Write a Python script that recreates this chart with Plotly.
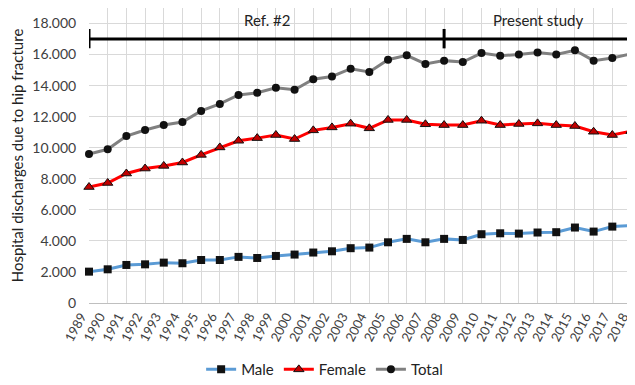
import plotly.graph_objects as go

years = list(range(1989, 2019))
male = [2020, 2170, 2450, 2490, 2600, 2560, 2770, 2770, 2970, 2900,
        3030, 3120, 3250, 3330, 3530, 3570, 3910, 4130, 3910, 4130,
        4060, 4430, 4490, 4470, 4540, 4560, 4860, 4600, 4920, 4990]
female = [7470, 7730, 8340, 8660, 8830, 9050, 9540, 10020, 10450, 10620,
          10820, 10560, 11120, 11310, 11550, 11250, 11790, 11790, 11510, 11460,
          11460, 11740, 11460, 11530, 11570, 11460, 11400, 11030, 10820, 11070]
total = [9590, 9900, 10750, 11140, 11460, 11660, 12370, 12820, 13400, 13540,
         13860, 13730, 14410, 14590, 15090, 14880, 15670, 15950, 15400, 15610,
         15520, 16100, 15930, 16000, 16130, 16000, 16280, 15610, 15780, 16040]

bracket_years = [1989, 2008, 2018]
bracket_level = 17000
bracket_tick_lo = 16400
bracket_tick_hi = 17650
bracket_labels = ["Ref. #2", "Present study"]
ytick_vals = list(range(0, 18001, 2000))

font = "Lato, 'Open Sans', sans-serif"
fig = go.Figure()
fig.add_trace(go.Scatter(x=years, y=male, name="Male", mode="lines+markers",
                         line=dict(color="#5B9BD5", width=3),
                         marker=dict(symbol="square", size=8, color="#111111"),
                         cliponaxis=False))
fig.add_trace(go.Scatter(x=years, y=female, name="Female", mode="lines+markers",
                         line=dict(color="#FF0000", width=3),
                         marker=dict(symbol="triangle-up", size=9, color="#C00000",
                                     line=dict(color="#111111", width=1)),
                         cliponaxis=False))
fig.add_trace(go.Scatter(x=years, y=total, name="Total", mode="lines+markers",
                         line=dict(color="#808080", width=3),
                         marker=dict(symbol="circle", size=8, color="#111111"),
                         cliponaxis=False))

# bracket (drawn as unclipped line traces)
bx = [bracket_years[0], bracket_years[-1], None]
by = [bracket_level, bracket_level, None]
for yr in bracket_years:
    bx += [yr, yr, None]
    by += [bracket_tick_lo, bracket_tick_hi, None]
fig.add_trace(go.Scatter(x=bx, y=by, mode="lines", line=dict(color="black", width=3),
                         showlegend=False, hoverinfo="skip", cliponaxis=False))
for i, lab in enumerate(bracket_labels):
    fig.add_annotation(x=(bracket_years[i] + bracket_years[i + 1]) / 2, y=18250,
                       text=lab, showarrow=False, font=dict(size=15, color="#222222"))

# page body has an 8px margin: figure is sized/placed to compensate
fig.update_layout(
    width=627, height=369,
    margin=dict(l=81, r=4, t=0, b=74, autoexpand=False),
    paper_bgcolor="white", plot_bgcolor="white",
    separators=",.",
    font=dict(family=font, size=14, color="#404040"),
    legend=dict(orientation="h", xref="container", yref="container",
                x=0.505, y=0.02, xanchor="center", yanchor="middle",
                font=dict(size=15, color="#222222"), itemwidth=30,
                tracegroupgap=0),
    showlegend=True,
)
fig.update_xaxes(range=[1989, 2018], tickmode="array", tickvals=years,
                 ticktext=[str(y) for y in years], tickangle=-62,
                 showgrid=True, gridcolor="#D9D9D9", gridwidth=1,
                 showline=True, linecolor="#BFBFBF", zeroline=False,
                 ticks="", automargin=False, ticklabeloverflow="allow",
                 ticklabelshift=-8,
                 tickfont=dict(size=13, color="#404040"))
fig.update_yaxes(range=[0, 19000], tickmode="array", tickvals=ytick_vals,
                 tickformat=",d", showgrid=True, gridcolor="#D9D9D9", gridwidth=1,
                 zeroline=False, showline=False, automargin=False,
                 ticks="outside", ticklen=9, tickcolor="rgba(0,0,0,0)",
                 title=dict(text="Hospital discharges due to hip fracture",
                            font=dict(size=15, color="#222222"), standoff=6),
                 tickfont=dict(size=14, color="#404040"))

fig.write_html("out.html")
